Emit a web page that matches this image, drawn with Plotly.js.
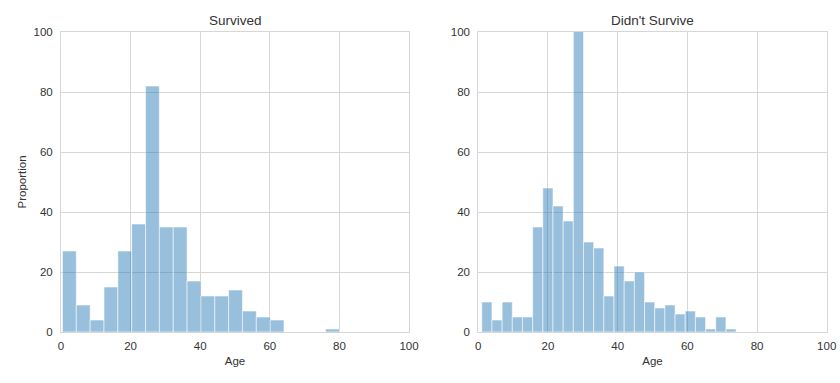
<!DOCTYPE html>
<html>
<head>
<meta charset="utf-8">
<script src="https://cdn.plot.ly/plotly-3.0.1.min.js"></script>
<style>html,body{margin:0;padding:0;background:#fff;}#chart{width:840px;height:383px;}</style>
</head>
<body>
<div id="chart"></div>
<script>
// Survived: 20 bins from age 0.42 to 80
const survivedCounts = [27, 9, 4, 15, 27, 36, 82, 35, 35, 17, 12, 12, 14, 7, 5, 4, 0, 0, 0, 1];
const survivedRange = [0.42, 80];
// Didn't survive: 25 bins from age 1 to 74
const diedCounts = [10, 4, 10, 5, 5, 35, 48, 42, 37, 172, 30, 28, 12, 22, 17, 20, 10, 8, 9, 6, 7, 5, 1, 5, 1];
const diedRange = [1, 74];
const xTicks = [0, 20, 40, 60, 80, 100];
const yTicks = [0, 20, 40, 60, 80, 100];
const titles = ["Survived", "Didn't Survive"];

function binsOf(counts, range) {
  const w = (range[1] - range[0]) / counts.length;
  return { x: counts.map((_, i) => range[0] + w * (i + 0.5)), w: w };
}
const s = binsOf(survivedCounts, survivedRange);
const d = binsOf(diedCounts, diedRange);

const barStyle = {
  color: 'rgba(36,122,183,0.47)',
  line: { color: 'rgba(255,255,255,0.55)', width: 1 }
};

const traces = [
  { type: 'bar', x: s.x, y: survivedCounts, width: s.w, marker: barStyle, xaxis: 'x', yaxis: 'y', hoverinfo: 'x+y' },
  { type: 'bar', x: d.x, y: diedCounts, width: d.w, marker: barStyle, xaxis: 'x2', yaxis: 'y2', hoverinfo: 'x+y' }
];

const fontFam = 'Liberation Sans, Arial, sans-serif';
const txtCol = '#333333';
function xa(dom, anchor) {
  return {
    domain: dom, anchor: anchor, range: [0, 100], tickvals: xTicks, ticktext: xTicks.map(String),
    showgrid: true, gridcolor: '#d6d6d6', gridwidth: 1, zeroline: false,
    showline: true, mirror: true, linecolor: '#d6d6d6', linewidth: 1,
    ticks: '', ticklen: 0, ticklabelstandoff: 3, tickfont: { family: fontFam, size: 11.5, color: txtCol },
    title: { text: 'Age', font: { family: fontFam, size: 11.5, color: txtCol }, standoff: 6 },
    automargin: false
  };
}
function ya(dom, anchor, withTitle) {
  const o = {
    domain: dom, anchor: anchor, range: [0, 100], tickvals: yTicks, ticktext: yTicks.map(String),
    showgrid: true, gridcolor: '#d6d6d6', gridwidth: 1, zeroline: false,
    showline: true, mirror: true, linecolor: '#d6d6d6', linewidth: 1,
    ticks: '', ticklen: 0, ticklabelstandoff: 5, tickfont: { family: fontFam, size: 11.5, color: txtCol },
    automargin: false
  };
  if (withTitle) o.title = { text: 'Proportion', font: { family: fontFam, size: 11.5, color: txtCol }, standoff: 4 };
  return o;
}
const yDom = [51 / 383, 351 / 383];
const layout = {
  width: 840, height: 383,
  margin: { l: 0, r: 0, t: 0, b: 0 },
  paper_bgcolor: '#ffffff', plot_bgcolor: '#ffffff',
  showlegend: false, bargap: 0,
  xaxis: xa([61 / 840, 409 / 840], 'y'),
  yaxis: ya(yDom, 'x', true),
  xaxis2: xa([478.3 / 840, 826.7 / 840], 'y2'),
  yaxis2: ya(yDom, 'x2', false),
  annotations: [
    { text: titles[0], x: 235 / 840, y: 1 - 20 / 383, xref: 'paper', yref: 'paper', showarrow: false,
      font: { family: fontFam, size: 13.5, color: txtCol }, xanchor: 'center', yanchor: 'middle' },
    { text: titles[1], x: 652.5 / 840, y: 1 - 20 / 383, xref: 'paper', yref: 'paper', showarrow: false,
      font: { family: fontFam, size: 13.5, color: txtCol }, xanchor: 'center', yanchor: 'middle' }
  ]
};
Plotly.newPlot('chart', traces, layout, { displayModeBar: false, staticPlot: true });
</script>
</body>
</html>
